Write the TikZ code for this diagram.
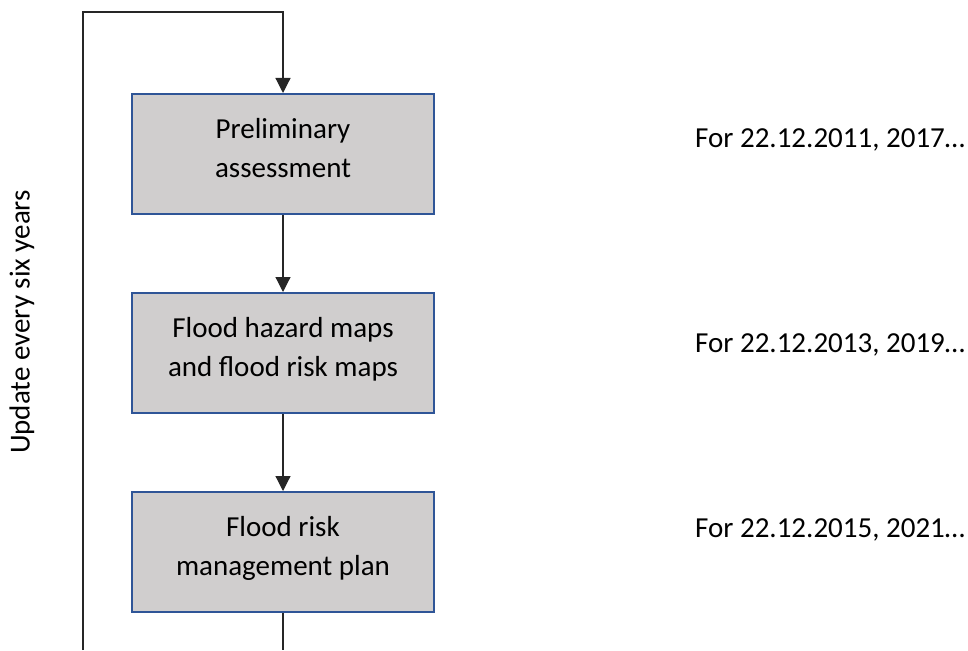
\documentclass[tikz,border=0pt]{standalone}
\usepackage{fontspec}
\setmainfont{Carlito}
\usepackage{xcolor}
\usetikzlibrary{arrows.meta,positioning}
\definecolor{boxfill}{HTML}{D0CECE}
\definecolor{boxline}{HTML}{2F5597}

\begin{document}
\begin{tikzpicture}[x=1pt, y=-1pt,
  node distance=77pt,
  stage/.style={draw=boxline, line width=2pt, fill=boxfill, minimum width=302pt, minimum height=120pt, inner sep=0pt, align=center, font={\fontsize{29}{39}\selectfont}, execute at begin node=\strut, execute at end node=\strut},
  note/.style={anchor=base west, inner sep=0pt, font={\fontsize{29}{39}\selectfont}},
  link/.style={line width=1.2pt, black!85},
  arr/.style={link, -{Triangle[length=15pt, width=15pt]}}]
\useasboundingbox (0,0) rectangle (968,650);
\node[stage] (prelim) at (283,154) {Preliminary\\assessment};
\node[stage, below=of prelim] (maps) {Flood hazard maps\\and flood risk maps};
\node[stage, below=of maps] (plan) {Flood risk\\management plan};
% dates on the right
\node[note] (date1) at (695,147) {For 22.12.2011, 2017…};
\node[note] (date2) at (695,352) {For 22.12.2013, 2019…};
\node[note] (date3) at (695,537) {For 22.12.2015, 2021…};
% six-year cycle
\node[rotate=90, inner sep=0pt, font={\fontsize{29}{39}\selectfont}] (cycle) at (22,322) {Update every six years};
\coordinate (topright) at (283,12);
\coordinate (topleft) at (83,12);
\coordinate (bottomleft) at (83,650);
\coordinate (bottomright) at (plan.south |- bottomleft);
\draw[arr] (bottomleft) -- (topleft) -- (topright) -- (prelim.north);
\foreach \a/\b in {prelim/maps,maps/plan} \draw[arr] (\a) -- (\b);
\draw[link] (plan) -- (bottomright);
\end{tikzpicture}
\end{document}
